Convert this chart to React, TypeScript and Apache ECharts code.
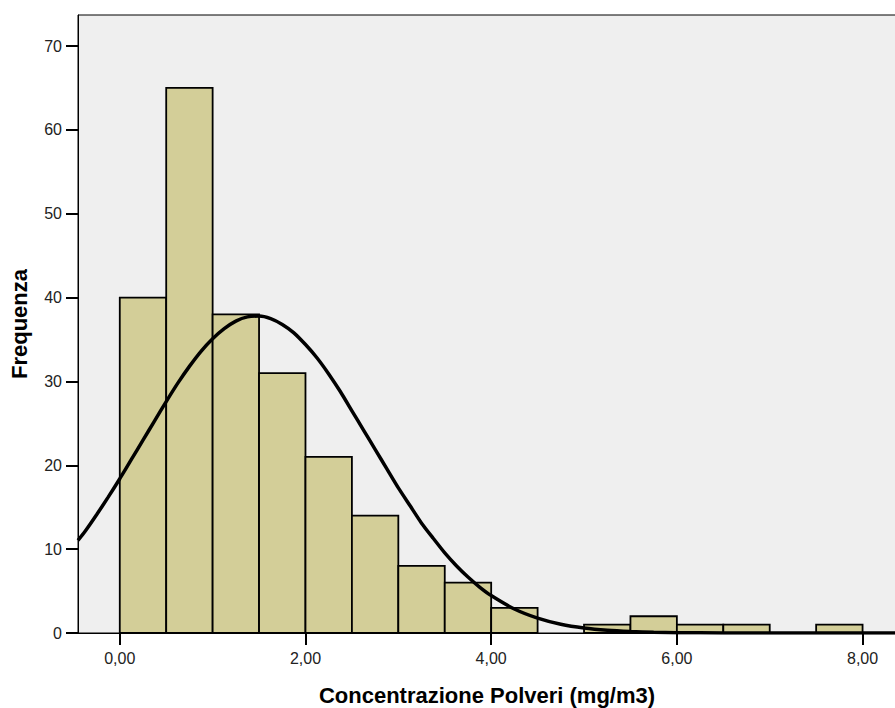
import React, { useEffect, useRef } from "react";
import * as echarts from "echarts";

const binStarts = [0, 0.5, 1, 1.5, 2, 2.5, 3, 3.5, 4, 4.5, 5, 5.5, 6, 6.5, 7, 7.5];
const binWidth = 0.5;
const counts = [40, 65, 38, 31, 21, 14, 8, 6, 3, 0, 1, 2, 1, 1, 0, 1];

const curveX = [-0.45, -0.375, -0.25, -0.125, 0, 0.125, 0.25, 0.375, 0.5, 0.625, 0.75, 0.875, 1, 1.125, 1.25, 1.375, 1.5, 1.625, 1.75, 1.875, 2, 2.125, 2.25, 2.375, 2.5, 2.625, 2.75, 2.875, 3, 3.125, 3.25, 3.375, 3.5, 3.625, 3.75, 3.875, 4, 4.25, 4.5, 4.75, 5, 5.25, 5.5, 5.75, 6, 6.5, 7, 7.5, 8, 8.36];
const curveY = [11.05, 12.1, 14.1, 16.2, 18.4, 20.7, 23.0, 25.3, 27.6, 29.8, 31.8, 33.6, 35.1, 36.3, 37.2, 37.7, 37.8, 37.5, 36.8, 35.8, 34.4, 32.8, 30.9, 28.8, 26.5, 24.2, 21.9, 19.6, 17.3, 15.2, 13.1, 11.3, 9.55, 8.02, 6.67, 5.48, 4.46, 2.86, 1.77, 1.04, 0.59, 0.32, 0.17, 0.08, 0.04, 0.01, 0, 0, 0, 0];

const xTicks = [0, 2, 4, 6, 8];
const yTicks = [0, 10, 20, 30, 40, 50, 60, 70];

const FONT = "Liberation Sans, Arial, sans-serif";

export default function App() {
  const ref = useRef<HTMLDivElement>(null);
  useEffect(() => {
    if (!ref.current) return;
    const chart = echarts.init(ref.current, null, { renderer: "svg" });
    const barData = binStarts.map((s, i) => [s, s + binWidth, counts[i]]).filter((d) => d[2] > 0);
    chart.setOption({
      animation: false,
      backgroundColor: "#ffffff",
      textStyle: { fontFamily: FONT },
      grid: {
        left: 78,
        top: 15,
        right: -1,
        bottom: 75,
        outerBoundsMode: "none",
        containLabel: false,
        show: true,
        backgroundColor: "#efefef",
        borderColor: "#000",
        borderWidth: 1,
      },
      xAxis: {
        type: "value",
        min: -0.45,
        max: 8.36,
        name: "Concentrazione Polveri (mg/m3)",
        nameLocation: "middle",
        nameGap: 51,
        nameTextStyle: { fontSize: 22, fontWeight: "bold", color: "#000", fontFamily: FONT },
        splitLine: { show: false },
        axisLine: { show: true, onZero: false, lineStyle: { color: "#000", width: 1 } },
        axisTick: { show: true, length: 12, lineStyle: { color: "#000", width: 2 }, customValues: xTicks },
        axisLabel: {
          customValues: xTicks,
          margin: 17,
          fontSize: 16,
          color: "#222",
          fontFamily: FONT,
          formatter: (v: number) => v.toFixed(2).replace(".", ","),
        },
      },
      yAxis: {
        type: "value",
        min: 0,
        max: 73.7,
        name: "Frequenza",
        nameLocation: "middle",
        nameGap: 48,
        nameTextStyle: { fontSize: 22, fontWeight: "bold", color: "#000", fontFamily: FONT },
        splitLine: { show: false },
        axisLine: { show: true, onZero: false, lineStyle: { color: "#000", width: 1 } },
        axisTick: { show: true, length: 12, lineStyle: { color: "#000", width: 2 }, customValues: yTicks },
        axisLabel: { customValues: yTicks, margin: 16, fontSize: 16, color: "#222", fontFamily: FONT },
      },
      series: [
        {
          type: "custom",
          data: barData,
          renderItem: (params: any, api: any) => {
            const p0 = api.coord([api.value(0), api.value(2)]);
            const p1 = api.coord([api.value(1), 0]);
            return {
              type: "rect",
              shape: { x: p0[0], y: p0[1], width: p1[0] - p0[0], height: p1[1] - p0[1] },
              style: { fill: "#d3ce98", stroke: "#000", lineWidth: 1.8 },
            };
          },
          encode: { x: [0, 1], y: 2 },
          z: 2,
        },
        {
          type: "line",
          data: curveX.map((x, i) => [x, curveY[i]]),
          smooth: 0.2,
          showSymbol: false,
          lineStyle: { color: "#000", width: 3.5 },
          z: 3,
          clip: true,
        },
      ],
    });
    return () => chart.dispose();
  }, []);
  return <div ref={ref} style={{ position: "fixed", left: 0, top: 0, width: 895, height: 708 }} />;
}
